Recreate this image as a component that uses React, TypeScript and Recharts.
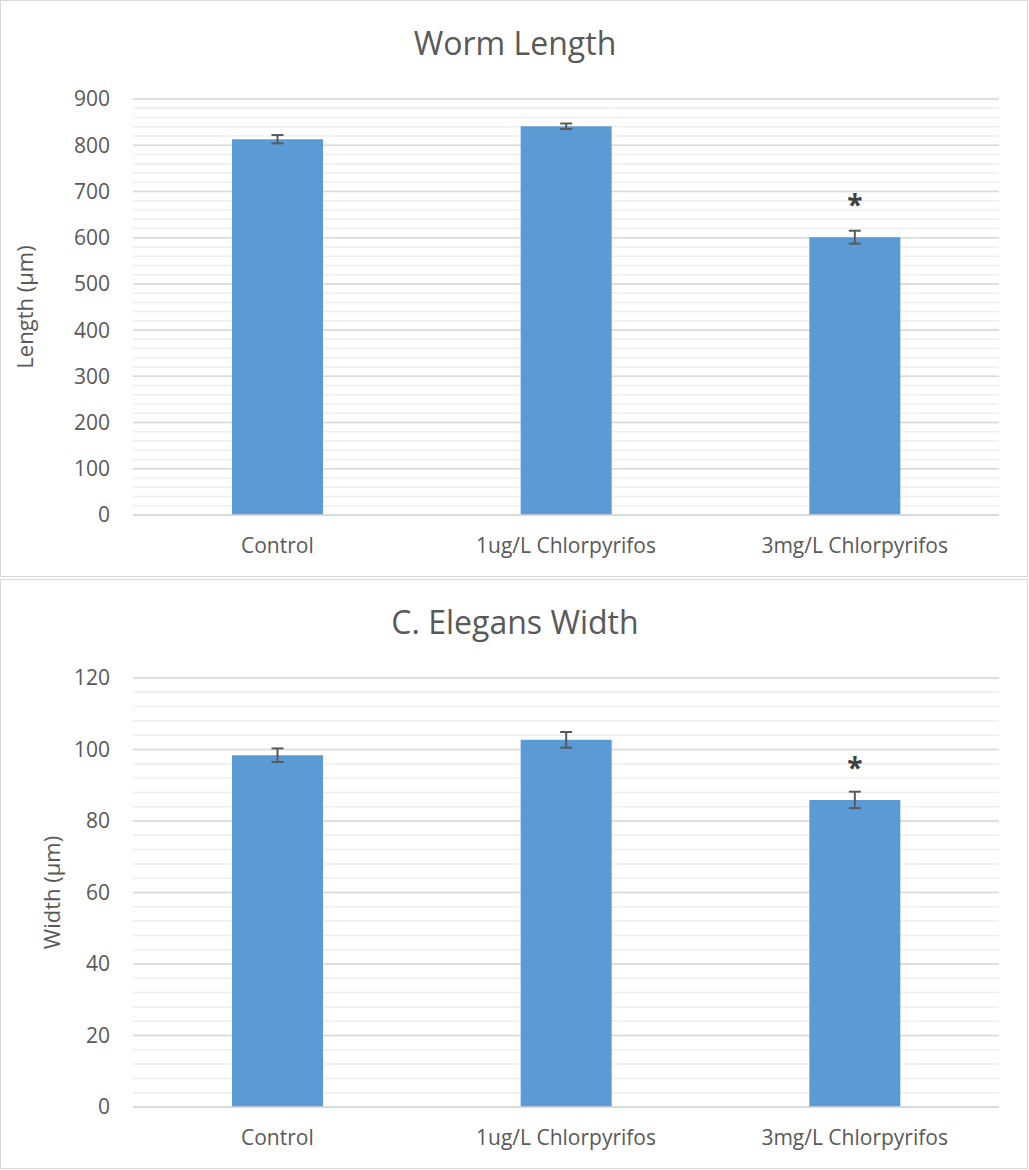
import React from 'react';
import { BarChart, Bar, XAxis, YAxis, CartesianGrid, ErrorBar, LabelList } from 'recharts';

const categories = ['Control', '1ug/L Chlorpyrifos', '3mg/L Chlorpyrifos'];
const lengthValues = [813, 841, 601];
const lengthErrors = [9, 6, 14];
const widthValues = [98.4, 102.7, 85.9];
const widthErrors = [1.9, 2.2, 2.3];
const significance = ['', '', '*'];

const lengthTicks = [0, 100, 200, 300, 400, 500, 600, 700, 800, 900];
const widthTicks = [0, 20, 40, 60, 80, 100, 120];
const lengthMinorStep = 20;
const widthMinorStep = 4;

const minorTicksFor = (max: number, step: number) => {
  const out: number[] = [];
  for (let v = 0; v <= max + 1e-9; v += step) out.push(Math.round(v * 1000) / 1000);
  return out;
};

const lengthData = categories.map((c, i) => ({ name: c, value: lengthValues[i], err: lengthErrors[i], star: significance[i] }));
const widthData = categories.map((c, i) => ({ name: c, value: widthValues[i], err: widthErrors[i], star: significance[i] }));

const FONT = '"Open Sans", "Segoe UI", sans-serif';
const TEXT = '#595959';

type PanelProps = {
  top: number;
  height: number;
  title: string;
  yLabel: string;
  yLabelX: number;
  data: any[];
  ticks: number[];
  minorStep: number;
};

function Panel({ top, height, title, yLabel, yLabelX, data, ticks, minorStep }: PanelProps) {
  const max = ticks[ticks.length - 1];
  const minor = minorTicksFor(max, minorStep);
  const W = 1029;
  const minorGen = (props: any) => {
    const s = props?.yAxis?.scale;
    if (typeof s === 'function') {
      const r = minor.map((v) => s(v));
      if (r.every((x) => typeof x === 'number' && !isNaN(x))) return r;
    }
    const off = props?.offset;
    if (!off) return [];
    return minor.map((v) => off.top + off.height * (1 - v / max));
  };
  return (
    <div style={{ position: 'absolute', left: 0, top, width: W, height }}>
      <BarChart
        width={W}
        height={height}
        data={data}
        margin={{ top: 99, right: 30, bottom: 32, left: 0 }}
        barCategoryGap="0%"
      >
        <CartesianGrid
          vertical={false}
          stroke="#eeeeee"
          strokeWidth={1.5}
          horizontalCoordinatesGenerator={minorGen}
        />
        <CartesianGrid vertical={false} stroke="#d9d9d9" strokeWidth={1.5} />
        <XAxis
          dataKey="name"
          height={30}
          tickLine={false}
          axisLine={{ stroke: '#d9d9d9', strokeWidth: 1.5 }}
          tickSize={0}
          tickMargin={23}
          tick={{ fill: TEXT, fontSize: 21, fontFamily: FONT }}
          interval={0}
        />
        <YAxis
          width={133}
          domain={[0, max]}
          ticks={ticks}
          type="number"
          axisLine={false}
          tickLine={false}
          tickSize={0}
          tickMargin={23}
          tick={{ fill: TEXT, fontSize: 21, fontFamily: FONT }}
        />
        <Bar dataKey="value" fill="#5b9bd5" barSize={91} isAnimationActive={false}>
          <ErrorBar dataKey="err" width={6} stroke="#595959" strokeWidth={2} isAnimationActive={false} />
          <LabelList
            dataKey="star"
            position="top"
            offset={22}
            fill="#404040"
            fontSize={28}
            fontWeight="bold"
            fontFamily={FONT}
          />
        </Bar>
      </BarChart>
      <svg width={W} height={height} style={{ position: 'absolute', left: 0, top: 0, pointerEvents: 'none' }}>
        <text x={515} y={55} textAnchor="middle" fill={TEXT} fontSize={32} fontFamily={FONT}>
          {title}
        </text>
        <text
          x={yLabelX}
          y={99 + (height - 62 - 99) / 2}
          textAnchor="middle"
          fill={TEXT}
          fontSize={22}
          fontFamily={FONT}
          transform={`rotate(-90 ${yLabelX} ${99 + (height - 62 - 99) / 2})`}
        >
          {yLabel}
        </text>
      </svg>
      <div
        style={{
          position: 'absolute',
          left: 0,
          top: 0,
          width: W - 1,
          height,
          border: '1.5px solid #d9d9d9',
          boxSizing: 'border-box',
          pointerEvents: 'none',
        }}
      />
    </div>
  );
}

export default function App() {
  return (
    <div style={{ position: 'absolute', left: 0, top: 0, width: 1029, height: 1170, background: '#fff' }}>
      <Panel
        top={0}
        height={577}
        title="Worm Length"
        yLabel="Length (µm)"
        yLabelX={33}
        data={lengthData}
        ticks={lengthTicks}
        minorStep={lengthMinorStep}
      />
      <Panel
        top={579}
        height={590}
        title="C. Elegans Width"
        yLabel="Width (µm)"
        yLabelX={60}
        data={widthData}
        ticks={widthTicks}
        minorStep={widthMinorStep}
      />
    </div>
  );
}
